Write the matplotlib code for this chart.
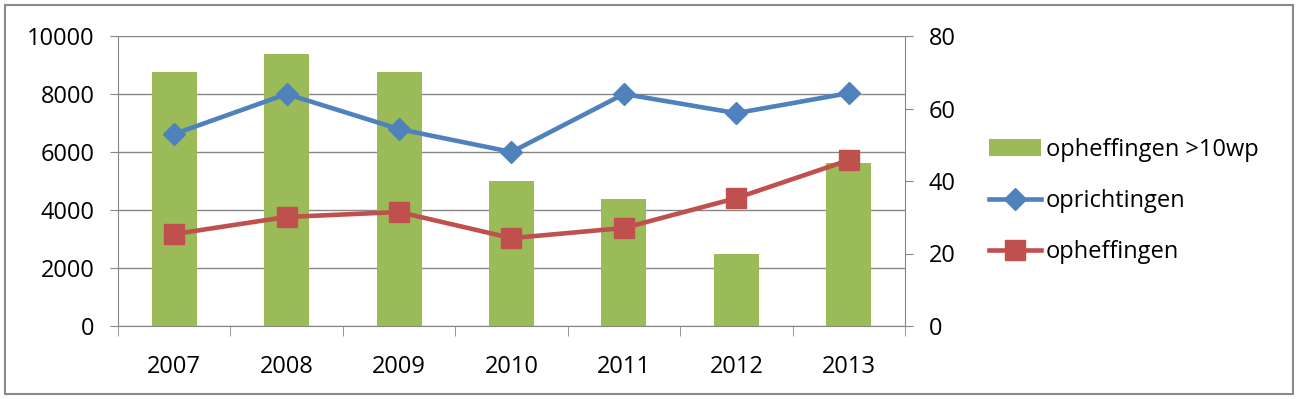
import matplotlib.pyplot as plt
import numpy as np
from matplotlib.patches import Rectangle

plt.rcParams['font.family'] = ['Open Sans', 'DejaVu Sans']

# data
jaren = ['2007', '2008', '2009', '2010', '2011', '2012', '2013']
opheffingen_10wp = [70, 75, 70, 40, 35, 20, 45]           # right axis
oprichtingen = [6620, 8000, 6790, 6000, 8000, 7340, 8030]  # left axis
opheffingen = [3170, 3760, 3930, 3030, 3380, 4410, 5720]   # left axis

GREEN = '#9BBB59'
BLUE = '#4F81BD'
RED = '#C0504D'
GRID = '#868686'
FS = 17

fig = plt.figure(figsize=(12.99, 3.99), dpi=100)
fig.patches.append(Rectangle((5 / 1299, 5 / 399), 1288 / 1299, 389 / 399,
                             transform=fig.transFigure, fill=False,
                             edgecolor='#8a8a8a', linewidth=1.5))

pos = [118 / 1299, 1 - 326 / 399, 787 / 1299, 290 / 399]
x = np.arange(len(jaren))

# base axes: left scale + gridlines
ax = fig.add_axes(pos)
ax.set_ylim(0, 10000)
ax.set_yticks(np.arange(0, 10001, 2000))
ax.set_xlim(-0.5, len(jaren) - 0.5)
ax.yaxis.grid(True, color=GRID, linewidth=1)
ax.set_axisbelow(True)

# bars on the right scale
axb = ax.twinx()
axb.set_ylim(0, 80)
axb.set_yticks(np.arange(0, 81, 20))
axb.bar(x, opheffingen_10wp, width=0.4, color=GREEN, label='opheffingen >10wp')
axb.patch.set_visible(False)

# lines on the left scale, drawn on top of the bars
axl = ax.twinx()
axl.set_ylim(ax.get_ylim())
axl.set_yticks([])
axl.patch.set_visible(False)
for s in axl.spines.values():
    s.set_visible(False)
axl.plot(x, oprichtingen, color=BLUE, linewidth=3.3, marker='D', markersize=11,
         label='oprichtingen')
axl.plot(x, opheffingen, color=RED, linewidth=3.3, marker='s', markersize=14,
         label='opheffingen')

ax.set_xticks(x)
ax.set_xticklabels(jaren)
ax.set_xticks(np.arange(-0.5, len(jaren)), minor=True)
ax.tick_params(axis='x', which='major', length=0, pad=21, labelsize=FS)
ax.tick_params(axis='x', which='minor', length=7, color=GRID, direction='out')
ax.tick_params(axis='y', length=6, color=GRID, pad=11, labelsize=FS)
axb.tick_params(axis='y', length=6, color=GRID, pad=11, labelsize=FS)

for a in (ax, axb):
    a.spines['top'].set_visible(False)
    for side in ('left', 'right', 'bottom'):
        a.spines[side].set_color(GRID)
ax.spines['right'].set_visible(False)
axb.spines['left'].set_visible(False)
axb.spines['bottom'].set_visible(False)

handles = axb.get_legend_handles_labels()[0] + axl.get_legend_handles_labels()[0]
labels = ['opheffingen >10wp', 'oprichtingen', 'opheffingen']
fig.legend(handles, labels, loc='center left',
           bbox_to_anchor=(989 / 1299, 1 - 201 / 399), frameon=False,
           fontsize=FS, handlelength=2.2, handletextpad=0.2,
           labelspacing=1.15, borderpad=0, borderaxespad=0)

fig.savefig('out.png', dpi=100)
